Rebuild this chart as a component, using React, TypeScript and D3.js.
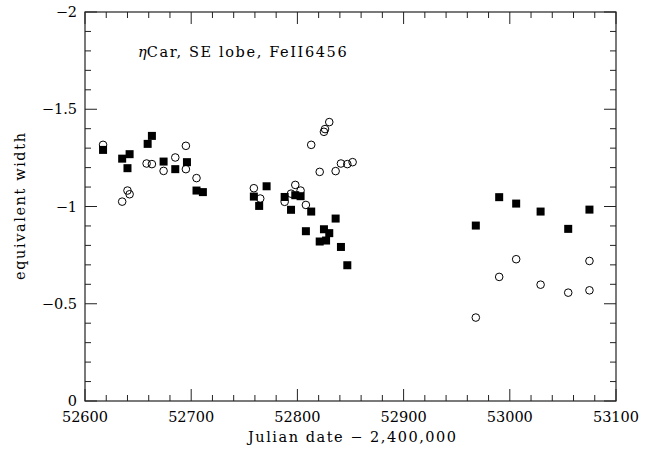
import React from "react";
import * as d3 from "d3";

// Filled squares (series 1)
const filledJD = [
  52617, 52635, 52642, 52640, 52659, 52663, 52674, 52685, 52696, 52705, 52711,
  52759, 52764, 52771, 52788, 52798, 52803, 52794, 52813, 52836, 52808, 52825,
  52830, 52821, 52827, 52841, 52847,
  52968, 52990, 53006, 53029, 53055, 53075,
];
const filledEW = [
  -1.291, -1.246, -1.269, -1.197, -1.322, -1.363, -1.231, -1.192, -1.228, -1.082, -1.074,
  -1.051, -1.003, -1.104, -1.049, -1.058, -1.053, -0.983, -0.974, -0.938, -0.873, -0.883,
  -0.863, -0.820, -0.825, -0.792, -0.698,
  -0.902, -1.048, -1.015, -0.974, -0.885, -0.984,
];

// Open circles (series 2)
const openJD = [
  52617, 52635, 52640, 52642, 52658, 52663, 52674, 52685, 52695, 52695, 52705,
  52759, 52765, 52830, 52826, 52825, 52813, 52841, 52847, 52852, 52821, 52836,
  52798, 52803, 52794, 52788, 52808,
  52968, 52990, 53006, 53029, 53055, 53075, 53075,
];
const openEW = [
  -1.317, -1.025, -1.082, -1.063, -1.221, -1.218, -1.183, -1.252, -1.312, -1.192, -1.146,
  -1.094, -1.041, -1.434, -1.398, -1.384, -1.317, -1.221, -1.218, -1.228, -1.178, -1.182,
  -1.111, -1.082, -1.066, -1.024, -1.008,
  -0.429, -0.638, -0.729, -0.598, -0.557, -0.720, -0.569,
];

const xMajor = [52600, 52700, 52800, 52900, 53000, 53100];
const yMajor = [-2, -1.5, -1, -0.5, 0];
const yLabels = ["\u22122", "\u22121.5", "\u22121", "\u22120.5", "0"];

const title = "Car, SE lobe, FeII6456";
const xTitle = "Julian date \u2212 2,400,000";
const yTitle = "equivalent width";

export default function App() {
  const W = 657, H = 449;
  const L = 85, R = 616, T = 12, B = 401;
  const x = d3.scaleLinear().domain([52600, 53100]).range([L, R]);
  const y = d3.scaleLinear().domain([-2, 0]).range([T, B]);

  const xMinor = d3.range(52600, 53100.1, 20).filter((v) => v % 100 !== 0);
  const yMinor = d3.range(-2, 0.001, 0.1).map((v) => Math.round(v * 10) / 10).filter(
    (v) => Math.abs(v * 2 - Math.round(v * 2)) > 1e-6
  );
  const font = "'DejaVu Serif', serif";
  const axisColor = "#222";
  const minorLen = 6, majorLen = 12;
  const sq = 8;

  return (
    <svg width={W} height={H} style={{ position: "absolute", left: 0, top: 0, background: "#fff" }}>
      <rect x={0} y={0} width={W} height={H} fill="#fff" />
      {/* frame */}
      <rect x={L} y={T} width={R - L} height={B - T} fill="none" stroke={axisColor} strokeWidth={1.2} />
      {/* x ticks */}
      {xMajor.map((v) => (
        <g key={"xM" + v}>
          <line x1={x(v)} x2={x(v)} y1={B} y2={B - majorLen} stroke={axisColor} />
          <line x1={x(v)} x2={x(v)} y1={T} y2={T + majorLen} stroke={axisColor} />
          <text x={x(v)} y={422} textAnchor="middle" fontFamily={font} fontSize={14.5} fill="#000">
            {v}
          </text>
        </g>
      ))}
      {xMinor.map((v) => (
        <g key={"xm" + v}>
          <line x1={x(v)} x2={x(v)} y1={B} y2={B - minorLen} stroke={axisColor} />
          <line x1={x(v)} x2={x(v)} y1={T} y2={T + minorLen} stroke={axisColor} />
        </g>
      ))}
      {/* y ticks */}
      {yMajor.map((v, i) => (
        <g key={"yM" + v}>
          <line x1={L} x2={L + majorLen} y1={y(v)} y2={y(v)} stroke={axisColor} />
          <line x1={R} x2={R - majorLen} y1={y(v)} y2={y(v)} stroke={axisColor} />
          <text x={77} y={y(v) + 5} textAnchor="end" fontFamily={font} fontSize={14.5} fill="#000">
            {yLabels[i]}
          </text>
        </g>
      ))}
      {yMinor.map((v) => (
        <g key={"ym" + v}>
          <line x1={L} x2={L + minorLen} y1={y(v)} y2={y(v)} stroke={axisColor} />
          <line x1={R} x2={R - minorLen} y1={y(v)} y2={y(v)} stroke={axisColor} />
        </g>
      ))}
      {/* open circles */}
      {openJD.map((d, i) => (
        <circle key={"o" + i} cx={x(d)} cy={y(openEW[i])} r={3.8} fill="none" stroke="#000" strokeWidth={1} />
      ))}
      {/* filled squares */}
      {filledJD.map((d, i) => (
        <rect key={"f" + i} x={x(d) - sq / 2} y={y(filledEW[i]) - sq / 2} width={sq} height={sq} fill="#000" />
      ))}
      {/* title */}
      <text x={138} y={57} fontFamily={font} fontSize={14.5} fill="#000">
        <tspan fontStyle="italic">η</tspan>
        <tspan textLength={200} lengthAdjust="spacing">{title}</tspan>
      </text>
      {/* axis titles */}
      <text x={352} y={442} textAnchor="middle" fontFamily={font} fontSize={14.5} fill="#000"
        textLength={208} lengthAdjust="spacing">
        {xTitle}
      </text>
      <text transform={`translate(25,${(T + B) / 2}) rotate(-90)`} textAnchor="middle" fontFamily={font}
        fontSize={14.5} fill="#000" textLength={147} lengthAdjust="spacing">
        {yTitle}
      </text>
    </svg>
  );
}
